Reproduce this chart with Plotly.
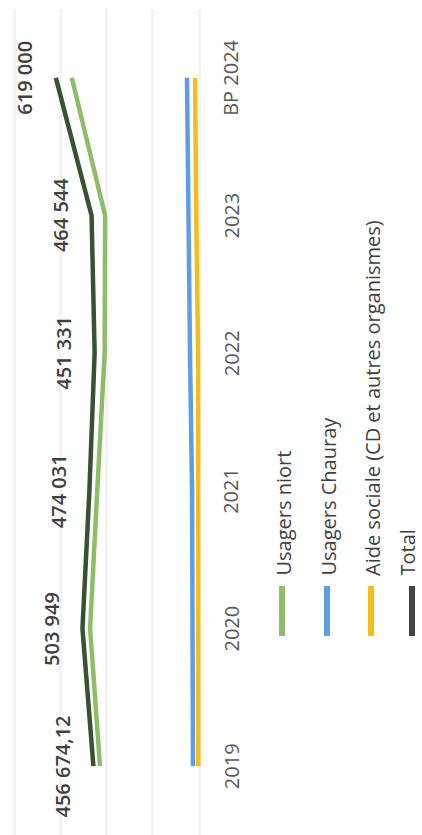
import plotly.graph_objects as go

# Yearly revenue by payer (EUR)
categories = ["2019", "2020", "2021", "2022", "2023", "BP 2024"]
usagers_niort = [428000, 471000, 440000, 408000, 406000, 550000]
usagers_chauray = [26000, 30000, 30000, 39000, 46000, 52000]
aide_sociale = [3000, 3000, 4000, 4000, 12000, 17000]
total = [456674.12, 503949, 474031, 451331, 464544, 619000]
total_labels = ["456 674,12", "503 949", "474 031", "451 331", "464 544", "619 000"]

series_names = ["Usagers niort", "Usagers Chauray",
                "Aide sociale (CD et autres organismes)", "Total"]
series_colors = ["#8dbd68", "#5f9ee6", "#f4bd1a", "#375230"]
legend_colors = ["#8dbd68", "#5f9ee6", "#f4bd1a", "#444444"]

W, H = 422, 835
MT, MB = 9, 0
plot_h = H - MT - MB

# value axis runs right-to-left, zero near x=199 px, 800 000 near x=14 px
px_per_unit = 185 / 800000
x_left = 199 / px_per_unit
x_right = (199 - W) / px_per_unit


def val_at(px):
    return (199 - px) / px_per_unit


def py(ypix):
    return (H - MB - ypix) / plot_h


fig = go.Figure()
ys = list(range(len(categories)))
for name, vals, col in zip(series_names,
                           [usagers_niort, usagers_chauray, aide_sociale, total],
                           series_colors):
    fig.add_trace(go.Scatter(x=vals, y=ys, mode="lines", name=name,
                             line=dict(color=col, width=4.5),
                             showlegend=False, hoverinfo="skip"))

# value labels beside the Total line
for i, (v, lab) in enumerate(zip(total, total_labels)):
    fig.add_annotation(x=v, y=i, xref="x", yref="y", text=lab, showarrow=False,
                       textangle=-90, xshift=-31, xanchor="center", yanchor="middle",
                       font=dict(family="Open Sans", size=20, color="#404040", weight=600))

# category labels
for i, c in enumerate(categories):
    fig.add_annotation(x=val_at(231), y=i, xref="x", yref="y", text=c, showarrow=False,
                       textangle=-90, xanchor="center", yanchor="middle",
                       font=dict(family="Open Sans", size=20, color="#595959"))

# rotated legend
legend_x = [282, 327, 371, 412]
for k, (name, col, lx) in enumerate(zip(series_names, legend_colors, legend_x)):
    fig.add_shape(type="line", xref="paper", yref="paper",
                  x0=lx / W, x1=lx / W, y0=py(636), y1=py(586),
                  line=dict(color=col, width=6))
    last = k == len(series_names) - 1
    fig.add_annotation(x=1.0 if last else (lx + 1) / W, y=py(578),
                       xref="paper", yref="paper", text=name,
                       showarrow=False, textangle=-90,
                       xanchor="right" if last else "center", yanchor="bottom",
                       font=dict(family="Open Sans", size=20, color="#404040"))

fig.update_layout(
    width=W, height=H,
    margin=dict(l=0, r=0, t=MT, b=MB),
    paper_bgcolor="white", plot_bgcolor="white",
    xaxis=dict(range=[x_left, x_right], tickvals=[0, 200000, 400000, 600000, 800000],
               showticklabels=False, showgrid=True, gridcolor="#f3f3f3", gridwidth=3,
               zeroline=False, showline=False, fixedrange=True),
    yaxis=dict(range=[-0.5, len(categories) - 0.5], showticklabels=False,
               showgrid=False, zeroline=False, showline=False, fixedrange=True),
    showlegend=False,
)

fig.write_html("out.html")
